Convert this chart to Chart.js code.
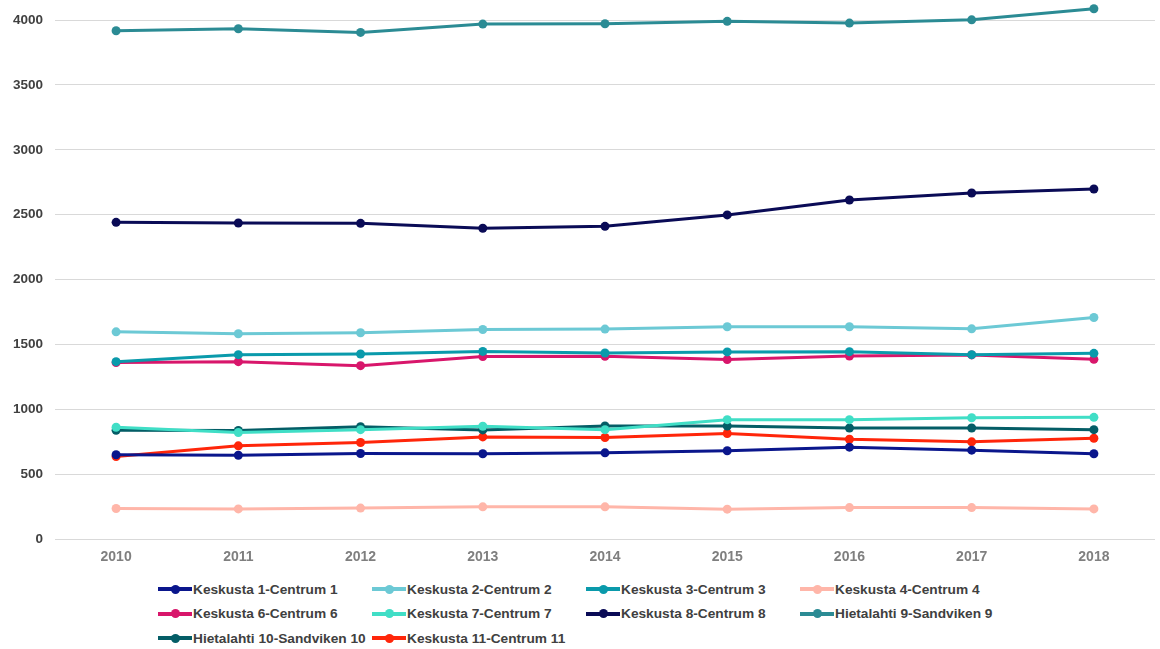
<!DOCTYPE html>
<html>
<head>
<meta charset="utf-8">
<script src="https://cdn.jsdelivr.net/npm/chart.js@4"></script>
<style>
    html, body { margin: 0; padding: 0; background: #ffffff; overflow: hidden; }
    #wrap { position: relative; width: 1160px; height: 649px; overflow: hidden; }
    #chart-box { position: absolute; left: 0; top: -13px; width: 1160px; height: 583px; }
    #legend {
        position: absolute; left: 158px; top: 577px;
        display: grid; grid-template-columns: repeat(4, 214px); grid-auto-rows: 24.5px;
        font-family: "Liberation Sans", Arial, sans-serif; font-size: 13.7px; font-weight: bold; color: #404040;
    }
    .item { display: flex; align-items: center; white-space: nowrap; }
    .mk { position: relative; width: 34px; height: 4px; margin-right: 1px; flex: none; }
    .mk i { position: absolute; left: 12.5px; top: -2.5px; width: 9px; height: 9px; border-radius: 50%; }
</style>
</head>
<body>
<div id="wrap">
    <div id="chart-box"><canvas id="chart"></canvas></div>
    <div id="legend"></div>
</div>
<script>
// --- Data ---
const years = ['2010', '2011', '2012', '2013', '2014', '2015', '2016', '2017', '2018'];
const yTicks = [0, 500, 1000, 1500, 2000, 2500, 3000, 3500, 4000];

const keskusta1 = [649, 646, 659, 657, 664, 680, 708, 685, 657];
const keskusta2 = [1597, 1582, 1590, 1615, 1618, 1636, 1636, 1620, 1707];
const keskusta3 = [1367, 1421, 1426, 1446, 1434, 1442, 1444, 1421, 1431];
const keskusta4 = [235, 232, 238, 248, 248, 230, 242, 242, 232];
const keskusta6 = [1360, 1367, 1336, 1406, 1408, 1383, 1411, 1419, 1385];
const keskusta7 = [861, 821, 843, 869, 843, 920, 920, 935, 938];
const keskusta8 = [2441, 2436, 2433, 2395, 2410, 2498, 2613, 2667, 2698];
const hietalahti9 = [3918, 3933, 3905, 3969, 3972, 3990, 3977, 4002, 4087];
const hietalahti10 = [838, 836, 866, 841, 871, 871, 856, 856, 843];
const keskusta11 = [636, 718, 744, 787, 782, 813, 769, 749, 777];

const seriesNames = [
    'Keskusta 1-Centrum 1', 'Keskusta 2-Centrum 2', 'Keskusta 3-Centrum 3', 'Keskusta 4-Centrum 4',
    'Keskusta 6-Centrum 6', 'Keskusta 7-Centrum 7', 'Keskusta 8-Centrum 8', 'Hietalahti 9-Sandviken 9',
    'Hietalahti 10-Sandviken 10', 'Keskusta 11-Centrum 11'
];
const seriesValues = [keskusta1, keskusta2, keskusta3, keskusta4, keskusta6, keskusta7, keskusta8, hietalahti9, hietalahti10, keskusta11];

// --- Styles ---
const COLORS = ['#0a168c', '#6cc9d5', '#0a9aab', '#ffb6a9', '#d8166b', '#40dec6', '#0a0b56', '#2b8b94', '#045d66', '#ff260a'];
const GRID = '#d9d9d9';
const FONT = '"Liberation Sans", Arial, sans-serif';

const datasets = seriesNames.map((name, i) => ({
    label: name,
    data: seriesValues[i],
    borderColor: COLORS[i],
    backgroundColor: COLORS[i],
    borderWidth: 3,
    pointRadius: 4.5,
    pointHoverRadius: 5,
    pointBorderWidth: 0,
    tension: 0,
    fill: false,
    clip: false
}));

const ctx = document.getElementById('chart').getContext('2d');
const myChart = new Chart(ctx, {
    type: 'line',
    data: { labels: years, datasets: datasets },
    options: {
        responsive: true, maintainAspectRatio: false, animation: false,
        layout: { padding: { top: 0, right: 5, left: 0, bottom: 0 } },
        plugins: { legend: { display: false }, tooltip: { enabled: false } },
        scales: {
            x: {
                offset: true,
                grid: { display: false, drawTicks: false },
                border: { display: false },
                ticks: { color: '#7f7f7f', padding: 10, font: { family: FONT, size: 14, weight: 'bold' } },
                afterFit: s => { s.height = 31; }
            },
            y: {
                min: 0, max: 4100,
                afterBuildTicks: s => { s.ticks = yTicks.map(v => ({ value: v })); },
                grid: { color: GRID, lineWidth: 1, drawTicks: false },
                border: { display: false },
                ticks: {
                    color: '#404040', padding: 12,
                    font: { family: FONT, size: 13.5, weight: 'bold' },
                    callback: v => String(v)
                },
                afterFit: s => { s.width = 55; }
            }
        }
    }
});

// --- HTML legend in fixed columns ---
const legend = document.getElementById('legend');
legend.innerHTML = myChart.data.datasets.map(d =>
    `<div class="item"><span class="mk" style="background:${d.borderColor}"><i style="background:${d.borderColor}"></i></span>${d.label}</div>`
).join('');
</script>
</body>
</html>
